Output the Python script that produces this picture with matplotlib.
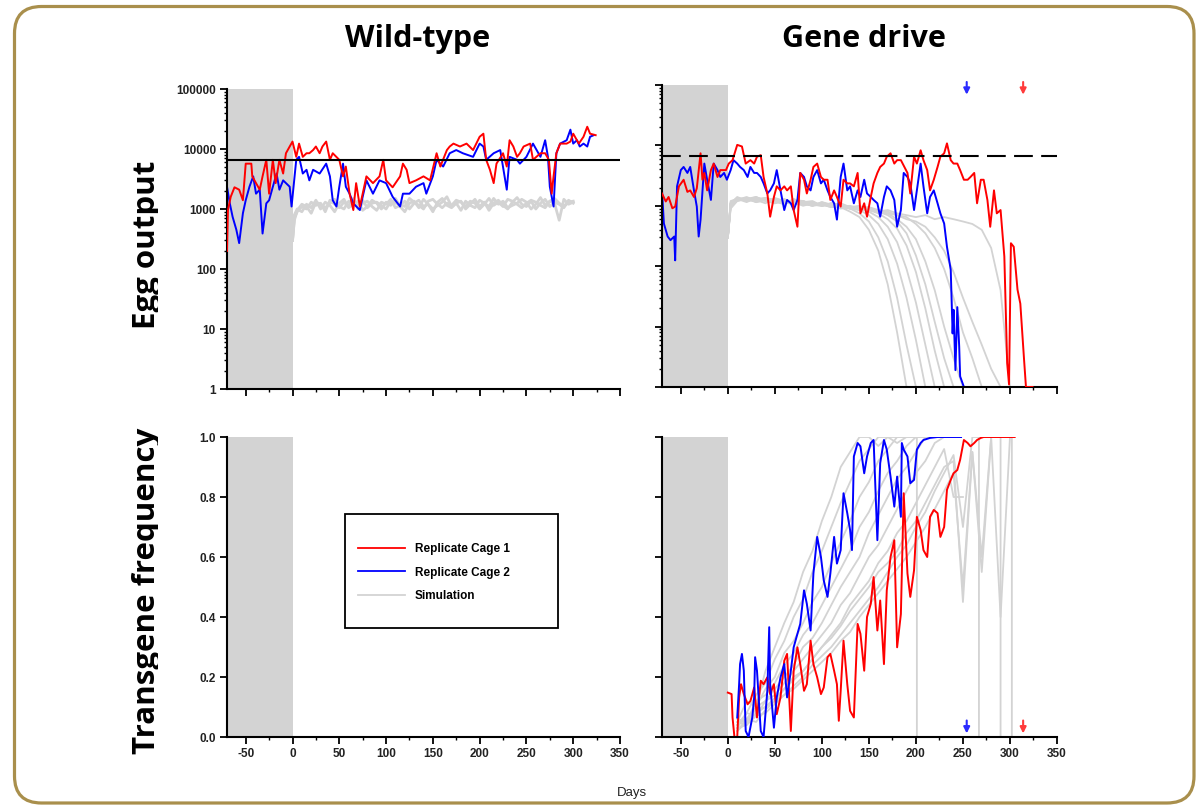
import matplotlib
matplotlib.use("Agg")
import matplotlib.pyplot as plt
import matplotlib.ticker as mticker
from matplotlib.patches import FancyBboxPatch, Rectangle
from matplotlib.transforms import Bbox, IdentityTransform
import numpy as np

plt.rcParams['axes.unicode_minus'] = False

# ---- wild-type egg output (replicate cages) ----
RED_WT_DAYS = [-70, -69, -66, -62, -57, -53, -50, -44, -43, -39, -35, -32, -28, -25, -21, -18, -14, -10, -7, -3,
               0, 4, 7, 11, 15, 18, 22, 25, 29, 32, 36, 40, 43, 50, 54, 57, 61, 65, 68, 72,
               75, 79, 86, 93, 97, 100, 107, 115, 118, 122, 125, 132, 140, 147, 154, 158, 165, 168, 172, 179,
               186, 193, 200, 204, 207, 211, 215, 218, 225, 229, 232, 236, 240, 243, 247, 254, 257, 265, 270, 274,
               277, 279, 282, 286, 293, 297, 300, 306, 311, 315, 318, 324]
RED_WT_EGGS = [200, 960, 1600, 2300, 2100, 1400, 5700, 5700, 3500, 2700, 2100, 3500, 6600, 1800, 6600, 2700, 6600, 3900, 8500, 11000,
               13300, 7400, 12300, 7400, 8500, 8500, 9600, 11000, 8500, 11000, 13300, 6600, 8500, 6600, 3500, 5100, 1800, 960, 2700, 1100,
               1800, 3500, 2700, 3500, 6600, 3000, 2300, 3500, 5700, 4500, 2700, 3000, 3500, 3000, 8500, 5100, 9600, 11000, 12300, 11000,
               12300, 9600, 16000, 18000, 6600, 4500, 2700, 5700, 8500, 5100, 14000, 11000, 7400, 8500, 11000, 12300, 6600, 8500, 8500, 6600,
               1800, 3500, 8500, 12300, 12300, 13300, 18000, 12300, 16000, 23500, 18000, 17000]
BLUE_WT_DAYS = [-70, -67, -64, -60, -57, -53, -50, -46, -42, -39, -35, -32, -28, -25, -21, -17, -14, -10, -7, -3,
                -1, 4, 7, 11, 15, 18, 22, 29, 36, 40, 43, 47, 50, 54, 57, 61, 65, 72, 75, 79,
                86, 93, 100, 107, 115, 118, 125, 132, 140, 143, 150, 154, 161, 168, 175, 182, 193, 200, 204, 207,
                215, 222, 229, 232, 240, 243, 250, 257, 265, 270, 273, 275, 279, 282, 286, 293, 297, 300, 304, 307,
                311, 315, 318, 322]
BLUE_WT_EGGS = [2350, 1240, 740, 450, 270, 850, 1400, 2350, 3500, 1800, 2100, 390, 1240, 1400, 2350, 3900, 2100, 3000, 2700, 2350,
                1100, 6600, 7400, 3900, 4500, 3000, 4500, 3900, 5700, 3500, 1400, 1100, 2350, 5700, 2350, 1800, 1240, 960, 1600, 3000,
                1800, 3000, 2700, 1600, 1100, 1800, 1800, 2350, 2700, 1800, 3500, 6600, 5100, 8500, 9600, 8500, 7400, 12300, 11000, 6600,
                8500, 9600, 2100, 7400, 6600, 5700, 7400, 12300, 7400, 14000, 7400, 2350, 1100, 8500, 12300, 14000, 21000, 12300, 14000, 11000,
                12300, 11000, 16000, 17000]

# wild-type simulations
WT_SIM_DAYS = [0, 2] + list(range(5, 305, 5))
WT_SIM_EGGS = [
    [300, 700, 900, 1100, 1000, 1300, 1150, 1250, 900, 1400, 1200, 1050, 1300, 1100, 1500, 1000, 1250, 1350, 1100, 950,
     1300, 1200, 1450, 1050, 1150, 1350, 1000, 1250, 1400, 1100, 1200, 900, 1300, 1500, 1150, 1050, 1250, 1350, 1000, 1200,
     1450, 1100, 1300, 950, 1250, 1400, 1150, 1000, 1300, 1550, 1200, 1100, 1350, 1000, 1250, 1450, 1100, 1300, 1200, 1050,
     1400, 1250],
    [300, 800, 1000, 900, 1200, 1050, 1400, 1000, 1300, 1150, 900, 1250, 1450, 1050, 1200, 1350, 950, 1100, 1400, 1250,
     1000, 1300, 1150, 1500, 1100, 900, 1250, 1350, 1050, 1450, 1200, 1000, 1150, 1300, 1600, 1100, 1250, 950, 1350, 1150,
     1050, 1400, 1250, 1100, 1500, 1200, 1350, 1050, 1150, 1250, 1450, 1300, 1000, 1200, 1550, 1150, 1350, 1250, 650, 1450,
     1200, 1300],
    [300, 650, 950, 1200, 1100, 850, 1300, 1200, 1050, 1250, 1450, 1100, 1000, 1350, 1200, 1150, 1400, 1050, 1250, 1300,
     1150, 1000, 1350, 1250, 1200, 1100, 1500, 1300, 1150, 1000, 1350, 1450, 1200, 1050, 1250, 1150, 1400, 1300, 1100, 1350,
     1250, 1000, 1200, 1500, 1150, 1300, 1100, 1450, 1350, 1200, 1050, 1250, 1400, 1300, 1150, 1050, 1350, 1500, 1250, 1100,
     1300, 1350],
]

# ---- gene drive egg output ----
RED_GD_DAYS = [-70, -66, -63, -59, -56, -52, -47, -43, -40, -36, -33, -29, -27, -25, -22, -18, -15, -11, -8, -2,
               1, 5, 10, 15, 19, 24, 28, 31, 35, 38, 42, 45, 49, 52, 56, 60, 63, 67, 70, 74,
               77, 81, 84, 88, 91, 95, 99, 102, 106, 109, 113, 116, 120, 123, 127, 130, 134, 138, 141, 145,
               148, 152, 155, 159, 162, 166, 169, 173, 177, 180, 184, 191, 194, 198, 201, 205, 208, 212, 215, 219,
               223, 226, 230, 233, 237, 240, 244, 247, 251, 255, 258, 262, 265, 269, 272, 276, 279, 283, 286, 290,
               294, 297, 299, 301, 304, 308, 311, 315, 317, 324]
RED_GD_EGGS = [1600, 1180, 1400, 910, 970, 2100, 2700, 1700, 1800, 1400, 1950, 7400, 2700, 3500, 1800, 3900, 5000, 3000, 3900, 3900,
               5000, 5700, 10200, 9600, 5000, 5700, 5000, 6500, 6900, 3000, 1600, 660, 1400, 2100, 1800, 2100, 1800, 2100, 850, 450,
               3500, 2700, 1600, 2700, 4400, 5000, 3000, 2700, 2700, 1250, 1800, 1400, 970, 2700, 2350, 2350, 2100, 3500, 750, 1100,
               660, 1400, 2350, 3500, 4400, 5000, 6500, 7400, 5000, 5700, 5700, 3500, 1600, 6500, 5000, 8300, 5700, 3900, 1800, 2700,
               4400, 6500, 7400, 10800, 5700, 5000, 5000, 3900, 2700, 2700, 3000, 3500, 1100, 2700, 2700, 1250, 450, 1800, 750, 850,
               145, 2.5, 1.1, 240, 210, 41, 24, 2.8, 1, 1]
BLUE_GD_DAYS = [-70, -68, -64, -61, -57, -56, -54, -50, -47, -43, -40, -36, -33, -31, -29, -25, -22, -18, -15, -11,
                -8, -4, -1, 3, 6, 10, 13, 17, 21, 24, 28, 31, 35, 38, 42, 45, 49, 52, 56, 60,
                63, 67, 70, 74, 77, 81, 84, 88, 91, 95, 99, 102, 106, 109, 113, 116, 120, 123, 127, 130,
                134, 138, 141, 145, 148, 152, 155, 159, 162, 166, 169, 173, 177, 180, 184, 187, 191, 194, 198, 201,
                205, 208, 212, 215, 219, 223, 226, 230, 233, 237, 239, 240, 242, 244, 246, 247, 251, 256]
BLUE_GD_EGGS = [1800, 510, 310, 270, 310, 125, 2100, 3900, 4400, 3500, 4400, 1800, 970, 310, 590, 5000, 2700, 1250, 5000, 3900,
                3000, 3500, 2700, 3900, 5700, 5000, 4400, 3900, 3000, 4400, 3500, 3500, 3000, 2350, 1600, 1800, 2350, 3900, 1800, 850,
                1250, 1100, 850, 1250, 3500, 3000, 2100, 1800, 3000, 3900, 2350, 2700, 1800, 1400, 1100, 590, 3000, 5000, 1800, 2100,
                1100, 1800, 1400, 2700, 1600, 1400, 1250, 1100, 660, 1400, 2100, 1800, 1250, 450, 850, 3500, 3000, 2350, 850, 1800,
                5000, 2100, 750, 1400, 1800, 1100, 750, 510, 210, 87, 7.7, 19, 1.9, 21, 4.7, 1.5, 1, 1]

# gene drive simulations (egg output)
GD_SIM_DAYS = [0, 3] + list(range(10, 320, 10))
GD_SIM_EGGS = [
    [300, 1100, 1350, 1250, 1400, 1200, 1150, 1300, 1100, 1200, 1050, 1000, 1100, 950, 800, 650, 400, 180, 50, 8, 1],
    [300, 1000, 1250, 1400, 1200, 1300, 1100, 1250, 1150, 1000, 1100, 1050, 950, 1000, 900, 750, 550, 300, 120, 30, 5, 1],
    [300, 1200, 1300, 1150, 1350, 1250, 1200, 1050, 1300, 1100, 1000, 1150, 1000, 900, 950, 850, 700, 500, 280, 110, 30, 6, 1],
    [300, 900, 1200, 1300, 1250, 1100, 1350, 1200, 1050, 1150, 1200, 1000, 1050, 1100, 950, 900, 800, 650, 450, 250, 90, 25, 5, 1],
    [300, 1100, 1400, 1200, 1300, 1350, 1150, 1100, 1250, 1200, 1050, 1100, 1000, 1050, 950, 1000, 850, 750, 600, 420, 220, 80, 20, 4, 1],
    [300, 1050, 1300, 1350, 1150, 1250, 1300, 1200, 1100, 1050, 1150, 1000, 1100, 950, 1000, 900, 950, 800, 700, 550, 350, 150, 50, 12, 3, 1],
    [300, 950, 1250, 1300, 1400, 1200, 1100, 1250, 1150, 1100, 1000, 1150, 1050, 1000, 900, 950, 850, 800, 750, 600, 450, 280, 120, 40, 10, 3, 1],
    [300, 1150, 1200, 1350, 1250, 1300, 1150, 1200, 1100, 1200, 1050, 1000, 1100, 1000, 950, 900, 950, 850, 800, 700, 650, 500, 350, 200, 90, 30, 8, 3, 1],
    [300, 1000, 1300, 1250, 1200, 1350, 1250, 1100, 1200, 1050, 1100, 1050, 950, 1000, 900, 850, 900, 800, 750, 700, 600, 550, 450, 300, 180, 80, 30, 12, 5, 2, 1],
    [300, 1100, 1250, 1300, 1150, 1250, 1200, 1150, 1050, 1100, 1000, 1050, 1000, 950, 900, 950, 850, 800, 850, 750, 700, 650, 700, 600, 650, 600, 550, 500, 400, 200, 40, 1],
]
GD_EXTINCT = [190, 201, 210, 220, 230, 240, 250, 267, 290, 302]
GD_FREQ_DROPS = [False, True, False, False, False, False, False, True, True, True]

# ---- gene drive transgene frequency ----
RED_FREQ_DAYS = [0, 4, 5, 7, 10, 12, 14, 17, 21, 24, 28, 31, 35, 38, 42, 45, 49, 52, 56, 60,
                 63, 67, 70, 74, 77, 81, 84, 88, 91, 95, 99, 102, 106, 109, 113, 116, 118, 120, 123, 127,
                 130, 134, 138, 141, 145, 148, 152, 155, 159, 162, 166, 169, 173, 177, 180, 184, 187, 191, 194, 198,
                 201, 205, 208, 212, 215, 219, 223, 226, 230, 233, 237, 240, 244, 247, 251, 255, 258, 262, 265, 269,
                 272, 305]
RED_FREQ = [0.148, 0.143, 0.065, 0.0, 0.0, 0.132, 0.176, 0.143, 0.109, 0.12, 0.165, 0.065, 0.1875, 0.176, 0.199, 0.143, 0.176, 0.076, 0.132, 0.254,
            0.277, 0.02, 0.221, 0.299, 0.243, 0.154, 0.176, 0.321, 0.243, 0.199, 0.143, 0.165, 0.266, 0.277, 0.221, 0.176, 0.054, 0.154, 0.321, 0.176,
            0.087, 0.065, 0.377, 0.344, 0.221, 0.4, 0.444, 0.533, 0.355, 0.455, 0.243, 0.489, 0.6, 0.656, 0.299, 0.41, 0.8125, 0.545, 0.467, 0.556,
            0.734, 0.69, 0.623, 0.6, 0.734, 0.757, 0.746, 0.667, 0.70, 0.824, 0.857, 0.879, 0.89, 0.924, 0.99, 0.98, 0.969, 0.98, 0.99, 0.997,
            1.0, 1.0]
BLUE_FREQ_DAYS = [10, 12, 13, 15, 17, 19, 22, 26, 28, 29, 31, 35, 38, 42, 44, 45, 49, 52, 56, 60,
                  63, 67, 70, 74, 77, 81, 84, 88, 91, 95, 99, 102, 106, 109, 113, 116, 120, 123, 127, 130,
                  132, 134, 138, 141, 145, 148, 152, 155, 159, 162, 166, 169, 173, 177, 180, 184, 185, 187, 191, 194,
                  198, 201, 205, 208, 215, 223, 248]
BLUE_FREQ = [0.065, 0.176, 0.243, 0.277, 0.221, 0.02, 0.0, 0.065, 0.132, 0.266, 0.221, 0.02, 0.0, 0.154, 0.366, 0.176, 0.031, 0.132, 0.199, 0.243,
             0.132, 0.221, 0.299, 0.344, 0.377, 0.489, 0.444, 0.355, 0.545, 0.667, 0.6, 0.522, 0.467, 0.545, 0.667, 0.578, 0.623, 0.8125, 0.746, 0.69,
             0.623, 0.935, 0.98, 0.969, 0.879, 0.935, 0.98, 0.99, 0.656, 0.913, 0.99, 0.958, 0.868, 0.768, 0.868, 0.734, 0.98, 0.958, 0.935, 0.846,
             0.857, 0.958, 0.98, 0.99, 0.997, 1.0, 1.0]

GD_FREQ_SIM_DAYS = list(range(10, 310, 10))
GD_SIM_FREQ = [
    [0.05, 0.12, 0.10, 0.22, 0.30, 0.38, 0.45, 0.55, 0.62, 0.72, 0.80, 0.90, 0.95, 1.0, 1.0, 0.97, 1.0, 1.0],
    [0.04, 0.08, 0.14, 0.18, 0.26, 0.32, 0.40, 0.46, 0.55, 0.62, 0.70, 0.78, 0.85, 0.92, 0.96, 1.0, 1.0, 0.98, 1.0],
    [0.02, 0.06, 0.10, 0.16, 0.20, 0.28, 0.32, 0.38, 0.45, 0.50, 0.58, 0.65, 0.72, 0.80, 0.85, 0.92, 0.96, 1.0, 1.0, 1.0],
    [0.06, 0.05, 0.12, 0.14, 0.18, 0.24, 0.28, 0.34, 0.38, 0.44, 0.50, 0.56, 0.62, 0.70, 0.75, 0.82, 0.88, 0.92, 0.97, 1.0, 1.0],
    [0.03, 0.08, 0.07, 0.12, 0.16, 0.20, 0.24, 0.30, 0.33, 0.38, 0.44, 0.50, 0.55, 0.60, 0.68, 0.74, 0.80, 0.86, 0.90, 0.95, 1.0, 1.0],
    [0.05, 0.04, 0.10, 0.12, 0.14, 0.18, 0.22, 0.26, 0.30, 0.34, 0.38, 0.44, 0.48, 0.54, 0.60, 0.64, 0.70, 0.76, 0.82, 0.88, 0.92, 0.98, 1.0],
    [0.02, 0.05, 0.08, 0.10, 0.12, 0.16, 0.20, 0.22, 0.26, 0.30, 0.34, 0.38, 0.44, 0.48, 0.52, 0.58, 0.62, 0.68, 0.72, 0.78, 0.84, 0.90, 0.96, 0.80],
    [0.04, 0.06, 0.05, 0.09, 0.12, 0.14, 0.17, 0.20, 0.24, 0.27, 0.30, 0.34, 0.38, 0.42, 0.46, 0.50, 0.55, 0.60, 0.64, 0.70, 0.75, 0.82, 0.88, 0.94, 0.70, 1.0],
    [0.03, 0.04, 0.07, 0.08, 0.11, 0.14, 0.16, 0.19, 0.22, 0.25, 0.28, 0.32, 0.35, 0.40, 0.44, 0.48, 0.52, 0.56, 0.60, 0.65, 0.70, 0.76, 0.82, 0.88, 0.50, 0.95, 0.60, 1.0],
    [0.05, 0.06, 0.09, 0.10, 0.13, 0.16, 0.19, 0.22, 0.26, 0.30, 0.33, 0.37, 0.42, 0.46, 0.50, 0.55, 0.58, 0.62, 0.68, 0.72, 0.78, 0.84, 0.90, 0.92, 0.45, 0.95, 0.55, 1.0, 0.40, 1.0],
]

WT_EGG_TARGET = 6500
GD_EGG_TARGET = 6800
ARROW_DAYS = {"blue": 254, "red": 314}

RED = '#ff0000'
BLUE = '#0000ff'
SIM = '#d3d3d3'
SHADE = '#d3d3d3'
TICK_FONT = dict(family='Liberation Sans', weight='bold', size=8.5)

fig = plt.figure(figsize=(12, 8.08), dpi=100)

# rounded gold frame, in pixels
frame = FancyBboxPatch((14.5, 5), 1179.5, 796.5, boxstyle="round,pad=0,rounding_size=27",
                       transform=IdentityTransform(), fill=False, ec='#a98f4c', lw=2.3)
fig.patches.append(frame)

W, H = 1200, 808
ax_tl = fig.add_axes([227 / W, (H - 389) / H, 393 / W, 300 / H])
ax_tr = fig.add_axes([662 / W, (H - 387) / H, 395 / W, 302 / H])
ax_bl = fig.add_axes([227 / W, (H - 737) / H, 393 / W, 300 / H])
ax_br = fig.add_axes([662 / W, (H - 737) / H, 395 / W, 300 / H])


def style(ax, log, show_x, show_y):
    for s in ['top', 'right']:
        ax.spines[s].set_visible(False)
    for s in ['left', 'bottom']:
        ax.spines[s].set_linewidth(1.5)
    ax.set_xlim(-70, 350)
    ax.set_xticks(range(-50, 351, 50))
    ax.set_xticks(range(-25, 350, 50), minor=True)
    if log:
        ax.set_yscale('log')
        ax.set_ylim(1, 1e5)
        ax.set_yticks([1, 10, 100, 1000, 10000, 100000])
        ax.yaxis.set_major_formatter(mticker.FuncFormatter(lambda v, p: '%d' % v))
        ax.yaxis.set_minor_locator(mticker.LogLocator(base=10, subs=np.arange(2, 10), numticks=20))
        ax.yaxis.set_minor_formatter(mticker.NullFormatter())
    else:
        ax.set_ylim(0, 1)
        ax.set_yticks(np.arange(0, 1.01, 0.2))
        ax.yaxis.set_major_formatter(mticker.FormatStrFormatter('%.1f'))
    ax.tick_params(which='major', direction='out', length=5, width=1.3, pad=3,
                   labelbottom=show_x, labelleft=show_y, colors='black', labelcolor='#222222')
    ax.tick_params(which='minor', direction='out', length=2.5, width=1.0)
    for lab in ax.get_xticklabels() + ax.get_yticklabels():
        lab.set_fontproperties(TICK_FONT)
    ax.axvspan(-70, 0, color=SHADE, lw=0, zorder=0)


style(ax_tl, True, False, True)
style(ax_tr, True, False, False)
style(ax_bl, False, True, True)
style(ax_br, False, True, False)

# wild-type egg output
for sim in WT_SIM_EGGS:
    n = min(len(sim), len(WT_SIM_DAYS))
    ax_tl.plot(WT_SIM_DAYS[:n], sim[:n], color=SIM, lw=2.0, zorder=1)
ax_tl.plot(BLUE_WT_DAYS, BLUE_WT_EGGS, color=BLUE, lw=1.4, zorder=2)
ax_tl.plot(RED_WT_DAYS, RED_WT_EGGS, color=RED, lw=1.4, zorder=3)
ax_tl.axhline(WT_EGG_TARGET, color='black', lw=1.5, zorder=4)

# gene drive egg output
for sim in GD_SIM_EGGS:
    n = min(len(sim), len(GD_SIM_DAYS))
    ax_tr.plot(GD_SIM_DAYS[:n], sim[:n], color=SIM, lw=1.3, zorder=1)
ax_tr.plot(BLUE_GD_DAYS, BLUE_GD_EGGS, color=BLUE, lw=1.4, zorder=2)
ax_tr.plot(RED_GD_DAYS, RED_GD_EGGS, color=RED, lw=1.4, zorder=3)
ax_tr.axhline(GD_EGG_TARGET, color='black', lw=1.5, dashes=(9, 4), zorder=4)

# gene drive transgene frequency: sims run until extinction, some fall back to 0
for sim, ext, drop in zip(GD_SIM_FREQ, GD_EXTINCT, GD_FREQ_DROPS):
    n = min(len(sim), len(GD_FREQ_SIM_DAYS))
    xs = GD_FREQ_SIM_DAYS[:n] + [ext]
    ys = sim[:n] + [sim[n - 1]]
    if drop:
        xs.append(ext)
        ys.append(0.0)
    ax_br.plot(xs, ys, color=SIM, lw=1.3, zorder=1)
ax_br.plot(RED_FREQ_DAYS, RED_FREQ, color=RED, lw=1.4, zorder=2)
ax_br.plot(BLUE_FREQ_DAYS, BLUE_FREQ, color=BLUE, lw=1.4, zorder=3)

# extinction arrows
for key, col in [("blue", '#2a2aff'), ("red", '#ff3b3b')]:
    d = ARROW_DAYS[key]
    ax_tr.annotate('', xy=(d, 10 ** 4.84), xytext=(d, 10 ** 5.05), annotation_clip=False,
                   arrowprops=dict(arrowstyle='-|>', color=col, lw=1.5, mutation_scale=9, shrinkA=0, shrinkB=0))
    ax_br.annotate('', xy=(d, 0.012), xytext=(d, 0.055), annotation_clip=False,
                   arrowprops=dict(arrowstyle='-|>', color=col, lw=1.5, mutation_scale=9, shrinkA=0, shrinkB=0))

# legend in the empty wild-type frequency panel
h_red, = ax_bl.plot([], [], color=RED, lw=1.3)
h_blue, = ax_bl.plot([], [], color=BLUE, lw=1.3)
h_sim, = ax_bl.plot([], [], color=SIM, lw=1.3)
ax_bl.legend([h_red, h_blue, h_sim], ['Replicate Cage 1', 'Replicate Cage 2', 'Simulation'],
             loc='center left', bbox_to_anchor=(0.333, 0.548), frameon=False, borderpad=0, borderaxespad=0,
             handlelength=4.0, handletextpad=0.8, labelspacing=0.95,
             prop=dict(family='Liberation Sans', weight='bold', size=8.5))
ax_bl.add_patch(Rectangle((0.30, 0.363), 0.542, 0.38, transform=ax_bl.transAxes,
                          fill=False, ec='black', lw=1.3, zorder=5))

# titles and labels
fig.text(418 / W, 1 - 39 / H, 'Wild-type', ha='center', va='center', fontsize=22,
         fontweight='bold', family='Open Sans')
fig.text(864 / W, 1 - 39 / H, 'Gene drive', ha='center', va='center', fontsize=22,
         fontweight='bold', family='Open Sans')
clip = Bbox.from_extents(0, 0, 158, H)
for label, yc in [('Egg output', 245), ('Transgene frequency', 591)]:
    t = fig.text(147 / W, 1 - yc / H, label, rotation=90, ha='center', va='center', fontsize=22.5,
                 fontweight='bold', family='Open Sans')
    t.set_clip_box(clip)
    t.set_clip_on(True)
fig.text(632 / W, 1 - 793 / H, 'Days', ha='center', va='center', fontsize=9.5,
         family='Liberation Sans', color='#222222')

fig.savefig('out.png', dpi=100)
